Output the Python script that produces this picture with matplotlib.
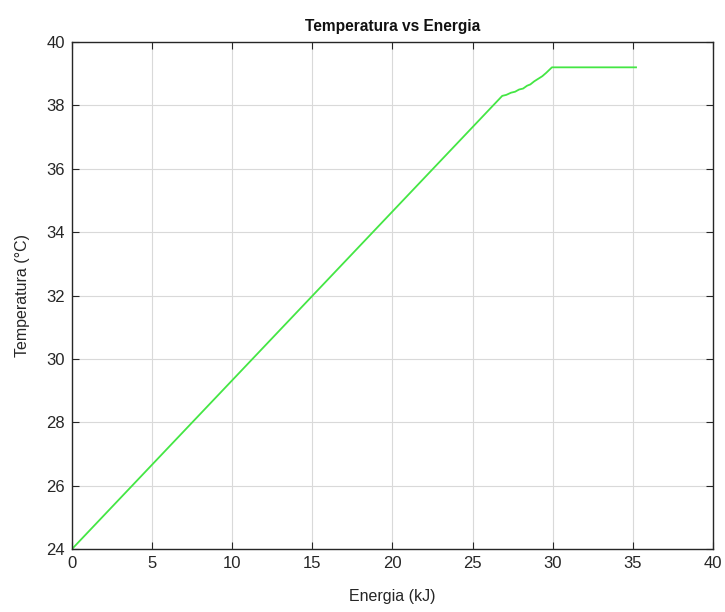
import matplotlib
matplotlib.use("Agg")
import matplotlib.pyplot as plt

# Data (energy in kJ, temperature in degC)
energia = [0.0, 26.85, 27.1, 27.4, 27.65, 27.9, 28.15, 28.4, 28.6, 28.85,
           29.1, 29.35, 29.6, 29.95, 35.2]
temperatura = [24.0, 38.30, 38.33, 38.40, 38.43, 38.50, 38.53, 38.62, 38.66,
               38.76, 38.84, 38.92, 39.03, 39.20, 39.20]

x_ticks = [0, 5, 10, 15, 20, 25, 30, 35, 40]
y_ticks = [24, 26, 28, 30, 32, 34, 36, 38, 40]

plt.rcParams['font.family'] = ['Liberation Sans', 'DejaVu Sans']

fig = plt.figure(figsize=(7.25, 6.12), dpi=100)
ax = fig.add_axes([0.0993, 0.1029, 0.8841, 0.8285])

ax.plot(energia, temperatura, color='#44e644', linewidth=1.3)

ax.set_xlim(0, 40)
ax.set_ylim(24, 40)
ax.set_xticks(x_ticks)
ax.set_yticks(y_ticks)

# MATLAB-ish look: inward ticks on all sides, light grid
ax.grid(True, color='#d9d9d9', linewidth=0.8)
ax.set_axisbelow(True)
ax.tick_params(direction='in', length=5, width=0.8, top=True, right=True,
               labelsize=12, colors='#262626', pad=5)
for s in ax.spines.values():
    s.set_color('#262626')
    s.set_linewidth(1.0)

ax.set_title('Temperatura vs Energia', fontsize=11.2, fontweight='bold',
             color='#111111', pad=8)
ax.set_xlabel('Energia (kJ)', fontsize=11.5, color='#262626', labelpad=13)
ax.set_ylabel('Temperatura (°C)', fontsize=11.5, color='#262626', labelpad=12)

fig.savefig('out.png', dpi=100)
